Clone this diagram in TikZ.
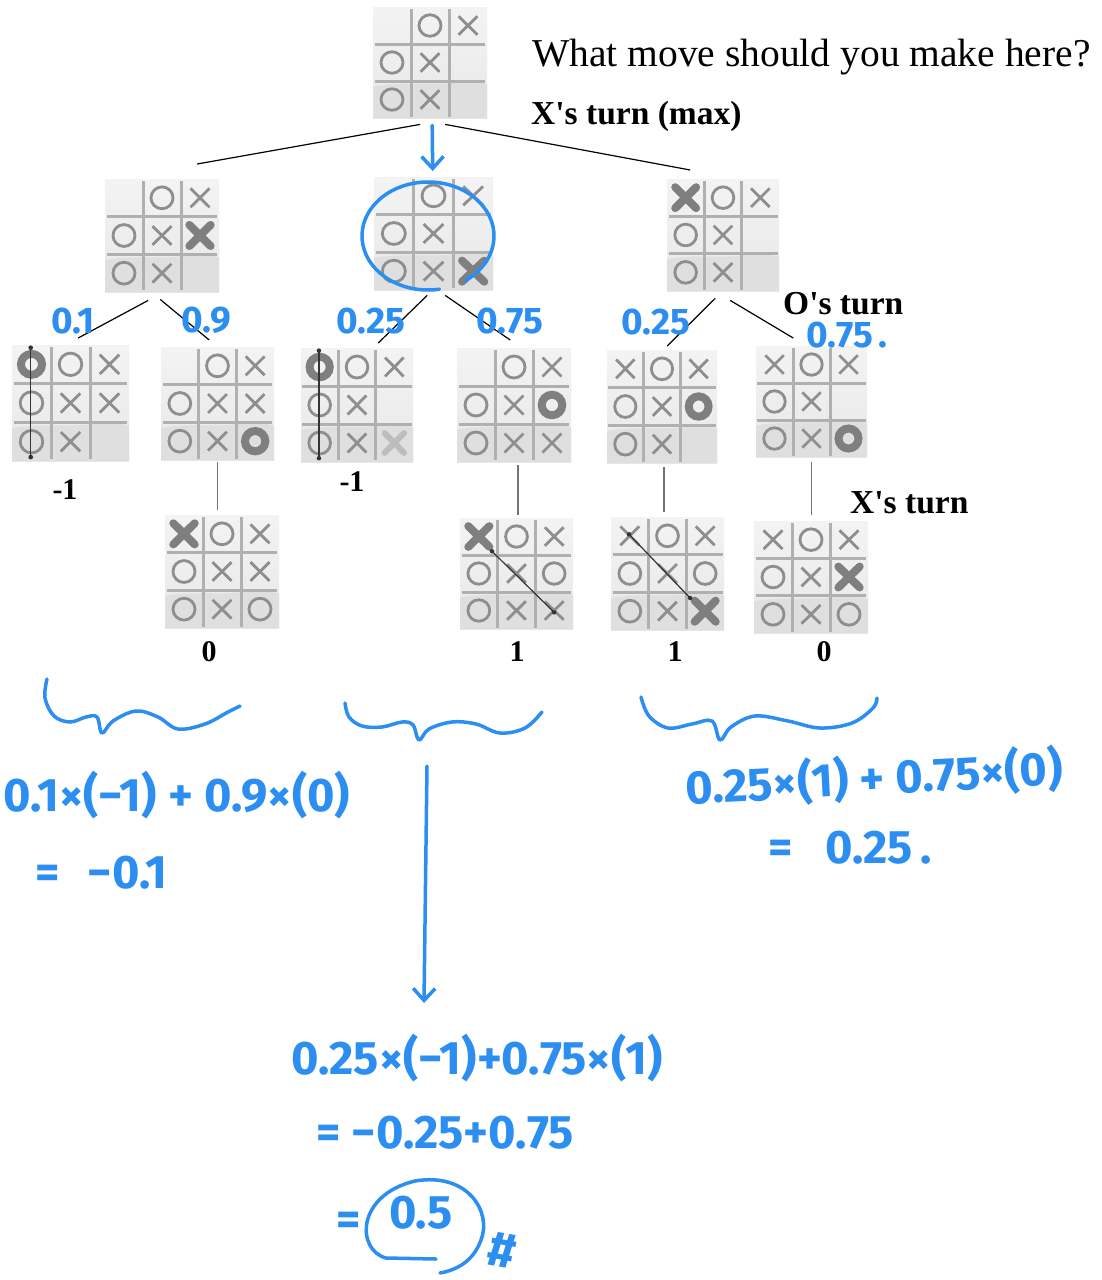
\documentclass[tikz,border=0pt]{standalone}
\usepackage{fontspec}
\setmainfont{Liberation Serif}
\newfontfamily\handfont{Fira Sans}
\usetikzlibrary{arrows.meta}
\definecolor{ink}{HTML}{2B8EF0}
\definecolor{bgtop}{HTML}{F3F3F3}
\definecolor{bgbot}{HTML}{E8E8E8}
\definecolor{bgband}{HTML}{DFDFDF}
\definecolor{gridc}{HTML}{B0B0B0}
\definecolor{symc}{HTML}{8E8E8E}
\definecolor{bigc}{HTML}{7F7F7F}
\definecolor{fadec}{HTML}{BDBDBD}
\tikzset{
  boardbg/.style={rectangle, inner sep=0pt, top color=bgtop, bottom color=bgbot, draw=none},
  gridline/.style={line width=3pt, draw=gridc},
  sym/.style={line width=2.8pt, draw=symc},
  bigsym/.style={line width=8pt, draw=bigc, line cap=round},
  fadesym/.style={line width=6pt, draw=fadec, line cap=round},
  winline/.style={line width=1.2pt, draw=black!80},
  edge/.style={draw=black, line width=1.2pt},
  vedge/.style={draw=black!55, line width=1.5pt},
  hand/.style={text=ink, font=\handfont\bfseries\fontsize{47}{47}\selectfont, inner sep=0pt},
  handsmall/.style={hand, font=\handfont\bfseries\fontsize{37}{37}\selectfont},
  inkline/.style={draw=ink, line width=3.5pt, line cap=round, line join=round},
  inkarrow/.style={inkline, -{Straight Barb[length=12pt,width=22pt,line width=3.5pt]}},
  title/.style={font=\fontsize{39.5}{40}\selectfont, inner sep=0pt},
  lab/.style={font=\bfseries\fontsize{33.5}{34}\selectfont, inner sep=0pt},
  val/.style={font=\bfseries\fontsize{30}{30}\selectfont, inner sep=0pt}
}
\newcommand\tttboard[6]{%
  \node[boardbg, minimum width=#4pt, minimum height=#5pt, anchor=north west] (#1) at (#2,#3) {};
  \begin{scope}[shift={(#2,#3)}, xscale=#4/3, yscale=#5/3]
    \fill[bgband] (0,2.15) .. controls (0.8,2.0) and (1.6,2.15) .. (2.2,2.02) .. controls (2.5,1.95) and (2.8,2.05) .. (3,2.08) -- (3,3) -- (0,3) -- cycle;
    \draw[gridline] (1,0.06) -- (1,2.96) (2,0.06) -- (2,2.96) (0.04,1) -- (2.96,1) (0.04,2) -- (2.96,2);
    #6
  \end{scope}}
\newcommand\tX[2]{\draw[sym] (#1+0.25,#2+0.25) -- (#1+0.75,#2+0.75) (#1+0.75,#2+0.25) -- (#1+0.25,#2+0.75);}
\newcommand\tO[2]{\draw[sym] (#1+0.5,#2+0.5) circle[radius=0.29];}
\newcommand\bX[2]{\draw[bigsym] (#1+0.22,#2+0.22) -- (#1+0.78,#2+0.78) (#1+0.78,#2+0.22) -- (#1+0.22,#2+0.78);}
\newcommand\bO[2]{\draw[bigsym] (#1+0.5,#2+0.5) circle[radius=0.27];}
\newcommand\fX[2]{\draw[fadesym] (#1+0.24,#2+0.24) -- (#1+0.76,#2+0.76) (#1+0.76,#2+0.24) -- (#1+0.24,#2+0.76);}
\newcommand\wline[4]{\draw[winline] (#1,#2) -- (#3,#4); \fill[black!80] (#1,#2) circle[radius=0.06] (#3,#4) circle[radius=0.06];}
\newcommand\basepos{\tO{1}{0}\tX{2}{0}\tO{0}{1}\tX{1}{1}\tO{0}{2}\tX{1}{2}}
\newcommand\apo{\textquotesingle}
\begin{document}
\begin{tikzpicture}[x=1pt, y=-1pt]
\path[use as bounding box, fill=white] (0,0) rectangle (1102,1280);

% boards
\tttboard{root}{373}{7}{114}{111}{\basepos}
\tttboard{a}{105}{179}{114}{113}{\basepos\bX{2}{1}}
\tttboard{b}{374}{177}{119}{113}{\basepos\bX{2}{2}}
\tttboard{c}{667}{179}{112}{112}{\basepos\bX{0}{0}}
\tttboard{aa}{12}{345}{117}{116}{\bO{0}{0}\basepos\tX{2}{1}\wline{0.48}{0.07}{0.48}{2.9}}
\tttboard{ab}{161}{347}{113}{113}{\basepos\tX{2}{1}\bO{2}{2}}
\tttboard{ba}{301}{348}{112}{114}{\bO{0}{0}\basepos\fX{2}{2}\wline{0.48}{0.07}{0.48}{2.9}}
\tttboard{bb}{457}{348}{114}{114}{\basepos\bO{2}{1}\tX{2}{2}}
\tttboard{ca}{607}{350}{110}{113}{\tX{0}{0}\basepos\bO{2}{1}}
\tttboard{cb}{756}{346}{111}{111}{\tX{0}{0}\basepos\bO{2}{2}}
\tttboard{aba}{165}{515}{114}{113}{\bX{0}{0}\basepos\tX{2}{1}\tO{2}{2}}
\tttboard{bba}{460}{518}{113}{111}{\bX{0}{0}\basepos\tO{2}{1}\tX{2}{2}\wline{0.85}{0.9}{2.5}{2.55}}
\tttboard{caa}{611}{517}{113}{113}{\tX{0}{0}\basepos\tO{2}{1}\bX{2}{2}\wline{0.48}{0.46}{2.1}{2.15}}
\tttboard{cba}{754}{521}{114}{112}{\tX{0}{0}\basepos\bX{2}{1}\tO{2}{2}}

% connectors
\draw[edge] ([xshift=-10pt,yshift=-6pt]root.south) -- ([xshift=35pt,yshift=15pt]a.north);
\draw[edge] ([xshift=15pt,yshift=-6pt]root.south) -- ([xshift=-33pt,yshift=9pt]c.north);
\draw[inkarrow] ([xshift=2pt,yshift=-7pt]root.south) -- ([xshift=-1pt,yshift=6pt]b.north);
\draw[edge] ([xshift=-14pt,yshift=-8pt]a.south) -- ([xshift=7.5pt,yshift=7pt]aa.north);
\draw[edge] ([xshift=-2pt,yshift=-7pt]a.south) -- ([xshift=-8.5pt,yshift=7pt]ab.north);
\draw[edge] ([xshift=-6.5pt,yshift=-5pt]b.south) -- ([xshift=21pt,yshift=5pt]ba.north);
\draw[edge] ([xshift=11.5pt,yshift=-5pt]b.south) -- ([xshift=-4pt,yshift=8pt]bb.north);
\draw[edge] ([xshift=-8pt,yshift=-7pt]c.south) -- ([xshift=5pt,yshift=4pt]ca.north);
\draw[edge] ([xshift=7pt,yshift=-9pt]c.south) -- ([xshift=-18.5pt,yshift=8pt]cb.north);
\draw[vedge] ([yshift=-2pt]ab.south) -- ([yshift=5pt]ab.south |- aba.north);
\draw[vedge] ([xshift=4pt,yshift=-3pt]bb.south) -- ([xshift=4pt,yshift=3pt]bb.south |- bba.north);
\draw[vedge] ([xshift=2pt,yshift=-4pt]ca.south) -- ([xshift=2pt,yshift=5pt]ca.south |- caa.north);
\draw[vedge] ([yshift=-5pt]cb.south) -- ([yshift=6pt]cb.south |- cba.north);

% black texts
\node[title, anchor=west] (q) at (532,57) {What move should you make here?};
\node[lab, anchor=west] (xmax) at (531,116) {X\apo s turn (max)};
\node[lab, anchor=west] (oturn) at (783,304) {O\apo s turn};
\node[lab, anchor=west] (xturn) at (850,503) {X\apo s turn};
\node[val] (vaa) at (65,490) {-1};
\node[val] (vba) at (352,482) {-1};
\node[val] (vaba) at (209,652) {0};
\node[val] (vbba) at (517,652) {1};
\node[val] (vcaa) at (675,652) {1};
\node[val] (vcba) at (824,652) {0};

% handwritten probabilities
\node[handsmall] (p1) at (73,321) {0.1};
\node[handsmall] (p2) at (206,320) {0.9};
\node[handsmall] (p3) at (371,321) {0.25};
\node[handsmall] (p4) at (510,321) {0.75};
\node[handsmall] (p5) at (656,322) {0.25};
\node[handsmall] (p6) at (847,335) {0.75\,.};

% circle around chosen move
\draw[inkline] (428,236) ++(80:66 and 54) arc[start angle=80, end angle=416, x radius=66, y radius=54];

% braces
\draw[inkline] plot[smooth, tension=0.6] coordinates {(47,679) (45,698) (54,716) (70,722) (86,717) (97,717) (102,733) (113,721) (136,711) (158,717) (178,729) (205,724) (228,712) (240,706)};
\draw[inkline] plot[smooth, tension=0.6] coordinates {(345,703) (349,717) (362,726) (382,727) (402,722) (413,725) (419,740) (429,729) (452,722) (476,724) (500,733) (525,728) (542,712)};
\draw[inkline] plot[smooth, tension=0.6] coordinates {(641,697) (649,716) (668,728) (692,724) (712,721) (720,740) (731,727) (755,716) (788,721) (820,728) (852,723) (873,708) (877,698)};

% formulas
\node[hand] (f1) at (177,795) {0.1×(−1) + 0.9×(0)};
\node[hand, anchor=west] (r1) at (35,873) {=\hspace{0.6em}−0.1};
\node[hand, rotate=3] (f3) at (874,778) {0.25×(1) + 0.75×(0)};
\node[hand, anchor=west] (r3) at (768,848) {=\hspace{0.7em}0.25\,.};
\coordinate (arrtop) at (427,766);
\coordinate (arrbot) at (424,1003);
\draw[inkarrow] (arrtop) -- (arrbot);
\node[hand] (f2) at (477,1058) {0.25×(−1)+0.75×(1)};
\node[hand] (r2a) at (445,1133) {= −0.25+0.75};
\node[hand] (eq) at (349,1224) {=};
\node[hand] (res) at (421,1213) {0.5};
\draw[inkline] (436,1259) -- (386,1258) .. controls (356,1250) and (356,1195) .. (415,1181) .. controls (468,1172) and (492,1212) .. (481,1240) .. controls (473,1262) and (456,1270) .. (440,1273);
\node[hand, font=\handfont\bfseries\fontsize{50}{50}\selectfont, rotate=-10] (hash) at (502,1250) {\#};
\end{tikzpicture}
\end{document}
